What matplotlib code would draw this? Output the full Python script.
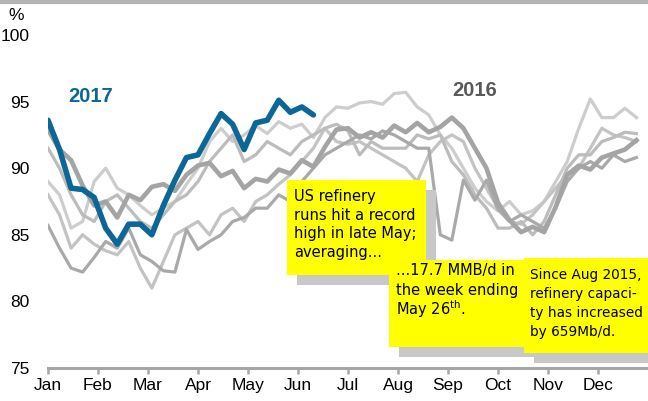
import numpy as np
import matplotlib.pyplot as plt
from matplotlib.patches import Rectangle
from matplotlib.lines import Line2D

plt.rcParams['font.family'] = ['Liberation Sans', 'DejaVu Sans']

months = ['Jan', 'Feb', 'Mar', 'Apr', 'May', 'Jun', 'Jul', 'Aug', 'Sep', 'Oct', 'Nov', 'Dec']

# weekly refinery utilisation (%)
y2017 = [93.6, 91.4, 88.5, 88.4, 87.8, 85.5, 84.3, 85.8, 85.8, 85.0, 87.2, 89.1,
         90.8, 91.0, 92.6, 94.1, 93.3, 91.4, 93.4, 93.6, 95.1, 94.2, 94.6, 94.0]

y_thick = [92.9, 91.4, 90.6, 88.7, 87.2, 87.5, 86.3, 88.0, 87.6, 88.6, 88.8, 88.3,
           89.5, 90.2, 90.4, 89.4, 89.8, 88.5, 89.2, 89.0, 89.9, 89.6, 90.6, 90.1,
           91.6, 92.9, 93.0, 92.3, 92.7, 92.3, 93.2, 92.7, 93.4, 92.7, 93.1, 93.8,
           93.0, 91.5, 90.0, 87.4, 86.1, 85.2, 85.6, 85.2, 87.1, 89.5, 90.2, 89.9,
           90.8, 91.1, 91.4, 92.1]

y_high = [89.0, 88.0, 85.5, 86.0, 89.0, 90.0, 88.5, 88.0, 87.2, 86.5, 87.0, 87.5,
          88.8, 90.0, 92.0, 93.0, 92.0, 92.5, 93.2, 92.6, 93.5, 93.0, 93.3, 92.3,
          93.8, 94.6, 94.5, 94.9, 95.0, 94.8, 95.6, 95.7, 94.6, 94.0, 92.5, 91.5,
          90.0, 88.5, 87.5, 86.8, 87.5, 86.5, 86.8, 87.5, 89.0, 90.5, 93.0, 95.2,
          93.8, 93.8, 94.5, 93.8]

y_low = [88.0, 86.5, 84.0, 85.0, 84.3, 83.8, 83.5, 84.5, 82.5, 81.0, 83.0, 85.0,
         85.5, 86.0, 85.0, 86.5, 87.0, 86.0, 87.5, 88.0, 88.8, 89.5, 90.5, 91.5,
         93.0, 92.0, 91.8, 92.0, 91.5, 91.0, 90.5, 90.0, 89.0, 91.0, 92.0, 92.5,
         92.0, 90.0, 88.5, 87.0, 86.0, 85.8, 86.5, 87.5, 88.5, 89.5, 90.0, 91.5,
         93.0, 92.5, 92.3, 92.0]

y_drop = [85.7, 84.0, 82.5, 82.2, 83.3, 84.5, 84.0, 85.5, 83.5, 83.0, 82.3, 82.2,
          85.4, 83.9, 84.5, 85.0, 86.0, 86.3, 87.0, 87.0, 88.0, 87.5, 89.0, 90.0,
          91.0, 91.5, 92.0, 92.5, 92.2, 92.8, 92.5, 92.0, 91.5, 91.5, 85.0, 84.6,
          89.1, 87.6, 89.1, 86.9, 86.0, 86.5, 86.0, 85.5, 87.0, 89.0, 90.0, 90.5,
          90.0, 91.0, 90.5, 90.8]

y_mid = [91.5, 90.0, 88.0, 86.5, 86.0, 87.5, 88.0, 87.0, 86.0, 85.5, 86.5, 87.5,
         88.0, 89.0, 90.5, 91.5, 92.5, 90.5, 91.0, 92.0, 91.5, 91.0, 92.0, 92.5,
         93.0, 93.3, 92.8, 91.0, 92.0, 91.5, 91.5, 91.5, 92.5, 92.2, 92.5, 90.5,
         89.5, 88.0, 87.0, 85.5, 85.5, 86.0, 85.0, 86.0, 88.0, 90.0, 91.0, 91.0,
         92.0, 92.3, 92.7, 92.6]

W, H = 648, 401
fig = plt.figure(figsize=(W / 100, H / 100), dpi=100)
ax = fig.add_axes([48 / W, 1 - 368 / H, 600 / W, (368 - 35) / H])


def wx(vals):
    return np.arange(len(vals)) * 12 / 52


ax.plot(wx(y_high), y_high, color='#cdcdcd', lw=2.3)
ax.plot(wx(y_low), y_low, color='#c3c3c3', lw=2.3)
ax.plot(wx(y_mid), y_mid, color='#bcbcbc', lw=2.3)
ax.plot(wx(y_drop), y_drop, color='#a9a9a9', lw=2.3)
ax.plot(wx(y_thick), y_thick, color='#a4a4a4', lw=3.3)
ax.plot(wx(y2017), y2017, color='#0b6797', lw=4.0, solid_capstyle='round')

ax.set_xlim(0, 12)
ax.set_ylim(75, 100)
ax.set_yticks([75, 80, 85, 90, 95, 100])
ax.set_xticks(range(12))
ax.set_xticklabels(months)
for s in ['left', 'top', 'right']:
    ax.spines[s].set_visible(False)
ax.spines['bottom'].set_color('#a6a6a6')
ax.spines['bottom'].set_linewidth(2.2)
ax.tick_params(axis='x', length=4, width=1.8, color='#a6a6a6', labelsize=12.5, pad=3)
ax.tick_params(axis='y', length=0, labelsize=12.5, pad=13)

ax.text(0.4, 95.0, '2017', color='#0b6797', fontsize=14.5, fontweight='bold')
ax.text(8.08, 95.4, '2016', color='#595959', fontsize=14.5, fontweight='bold')
fig.text(8 / W, 1 - 15 / H, '%', fontsize=12.5, va='center')

# top rule
fig.add_artist(Line2D([0, 1], [1 - 2 / H, 1 - 2 / H], color='#b3b3b3', lw=3,
                      transform=fig.transFigure))


def box(x0, y0, x1, y1, lines, tx, ty, size=10.5):
    fig.add_artist(Rectangle(((x0 + 10) / W, 1 - (y1 + 10) / H), (x1 - x0) / W, (y1 - y0) / H,
                             transform=fig.transFigure, color='#c8c8c8', lw=0))
    fig.add_artist(Rectangle((x0 / W, 1 - y1 / H), (x1 - x0) / W, (y1 - y0) / H,
                             transform=fig.transFigure, color='#ffff00', lw=0))
    for i, t in enumerate(lines):
        fig.text(tx / W, 1 - (ty + 19 * i) / H, t, fontsize=size, family='DejaVu Sans',
                 va='center', color='black')


box(287, 180, 426, 275, ['US refinery', 'runs hit a record', 'high in late May;',
                         'averaging...'], 294, 196)
box(389, 260, 527, 347, ['...17.7 MMB/d in', 'the week ending',
                         'May 26$^{\\rm th}$.'], 396, 271)
box(524, 258, 660, 353, ['Since Aug 2015,', 'refinery capaci-', 'ty has increased',
                         'by 659Mb/d.'], 530, 275, size=9.8)

fig.savefig('out.png', dpi=100)
